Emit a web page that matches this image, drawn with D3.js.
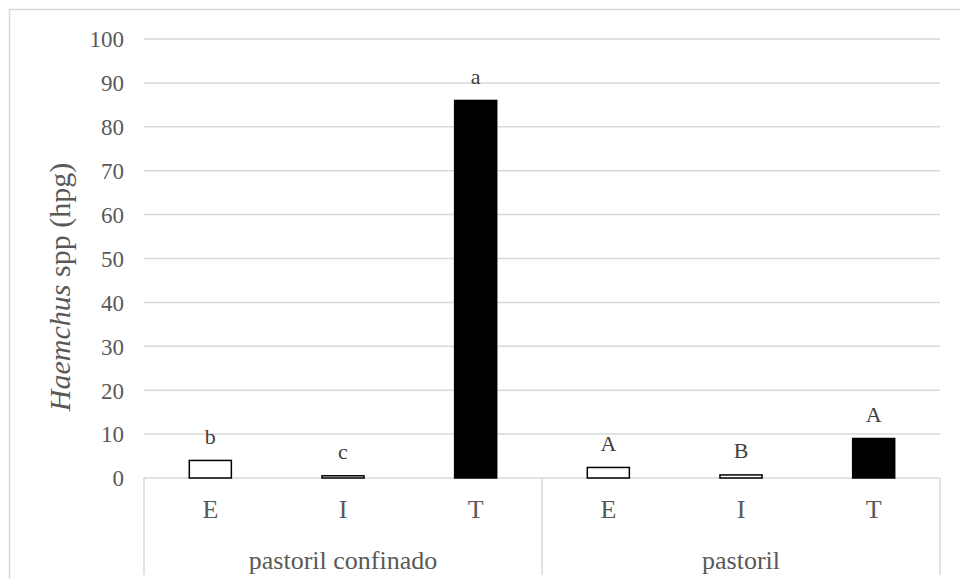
<!DOCTYPE html>
<html>
<head>
<meta charset="utf-8">
<script src="https://cdn.jsdelivr.net/npm/d3@7"></script>
<style>
  html, body { margin: 0; padding: 0; background: #fff; }
  svg { display: block; }
  text { font-family: "Liberation Serif", "Times New Roman", serif; }
</style>
</head>
<body>
<svg id="chart" width="960" height="579"></svg>
<script>
// Systems and treatments along the category axis
const groups = ["pastoril confinado", "pastoril"];
const treatments = ["E", "I", "T"];
// Mean egg counts per treatment, one array per system
const valuesConfinado = [4, 0.5, 86];
const valuesPastoril = [2.4, 0.7, 9];
// Significance letters drawn above each bar
const lettersConfinado = ["b", "c", "a"];
const lettersPastoril = ["A", "B", "A"];
// Y axis ticks
const yTicks = [0, 10, 20, 30, 40, 50, 60, 70, 80, 90, 100];

const seriesByGroup = [
  { group: groups[0], values: valuesConfinado, letters: lettersConfinado },
  { group: groups[1], values: valuesPastoril, letters: lettersPastoril }
];
const rows = seriesByGroup.flatMap(s =>
  treatments.map((t, i) => ({ group: s.group, treatment: t, value: s.values[i], letter: s.letters[i] }))
);

const svg = d3.select("#chart");
const plotLeft = 144, plotRight = 940, plotTop = 39, plotBase = 478, axisBottom = 575;

const x0 = d3.scaleBand().domain(groups).range([plotLeft, plotRight]).padding(0);
const x1 = d3.scaleBand().domain(treatments).range([0, x0.bandwidth()])
  .paddingInner(0.683).paddingOuter(0.3415);
const y = d3.scaleLinear().domain([0, 100]).range([plotBase, plotTop]);

// Outer chart frame
svg.append("path")
  .attr("d", `M9.5,${579 + 2} V9.5 H${960 + 2}`)
  .attr("fill", "none").attr("stroke", "#d9d9d9").attr("stroke-width", 1.5);

// Horizontal gridlines
svg.append("g").selectAll("line").data(yTicks.filter(d => d > 0)).join("line")
  .attr("x1", plotLeft).attr("x2", plotRight)
  .attr("y1", d => y(d)).attr("y2", d => y(d))
  .attr("stroke", "#d9d9d9").attr("stroke-width", 1.5);

// Y tick labels
const yAxis = d3.axisLeft(y).tickValues(yTicks).tickSize(0).tickPadding(0);
const gy = svg.append("g").attr("transform", `translate(${plotLeft - 20},0)`).call(yAxis);
gy.select(".domain").remove();
gy.selectAll("text")
  .attr("font-family", "Liberation Serif, Times New Roman, serif")
  .attr("font-size", 23).attr("fill", "#595959").attr("dy", "0.34em");

// Category axis box: baseline plus group separators
svg.append("line")
  .attr("x1", plotLeft).attr("x2", plotRight).attr("y1", plotBase).attr("y2", plotBase)
  .attr("stroke", "#d9d9d9").attr("stroke-width", 1.5);
const seps = [plotLeft, ...groups.map(g => x0(g) + x0.bandwidth())];
svg.append("g").selectAll("line").data(seps).join("line")
  .attr("x1", d => d).attr("x2", d => d).attr("y1", plotBase).attr("y2", axisBottom)
  .attr("stroke", "#d9d9d9").attr("stroke-width", 1.5);

// Bars
svg.append("g").selectAll("rect").data(rows).join("rect")
  .attr("x", d => x0(d.group) + x1(d.treatment))
  .attr("width", x1.bandwidth())
  .attr("y", d => y(d.value))
  .attr("height", d => plotBase - y(d.value))
  .attr("fill", d => d.treatment === "T" ? "#000" : "#fff")
  .attr("stroke", "#000").attr("stroke-width", 1.5);

// Letters over bars
svg.append("g").selectAll("text").data(rows).join("text")
  .attr("x", d => x0(d.group) + x1(d.treatment) + x1.bandwidth() / 2)
  .attr("y", d => y(d.value) - 16.5)
  .attr("text-anchor", "middle")
  .attr("font-size", 22).attr("fill", "#404040")
  .text(d => d.letter);

// Treatment labels
svg.append("g").selectAll("text").data(rows).join("text")
  .attr("x", d => x0(d.group) + x1(d.treatment) + x1.bandwidth() / 2)
  .attr("y", 518)
  .attr("text-anchor", "middle")
  .attr("font-size", 26).attr("fill", "#595959")
  .text(d => d.treatment);

// Group labels
svg.append("g").selectAll("text").data(groups).join("text")
  .attr("x", d => x0(d) + x0.bandwidth() / 2)
  .attr("y", 569)
  .attr("text-anchor", "middle")
  .attr("font-size", 26).attr("fill", "#595959")
  .text(d => d);

// Y axis title
const title = svg.append("text")
  .attr("transform", "translate(70,287) rotate(-90)")
  .attr("text-anchor", "middle")
  .attr("font-size", 30).attr("fill", "#595959");
title.append("tspan").attr("font-style", "italic").text("Haemchus");
title.append("tspan").text(" spp (hpg)");
</script>
</body>
</html>
